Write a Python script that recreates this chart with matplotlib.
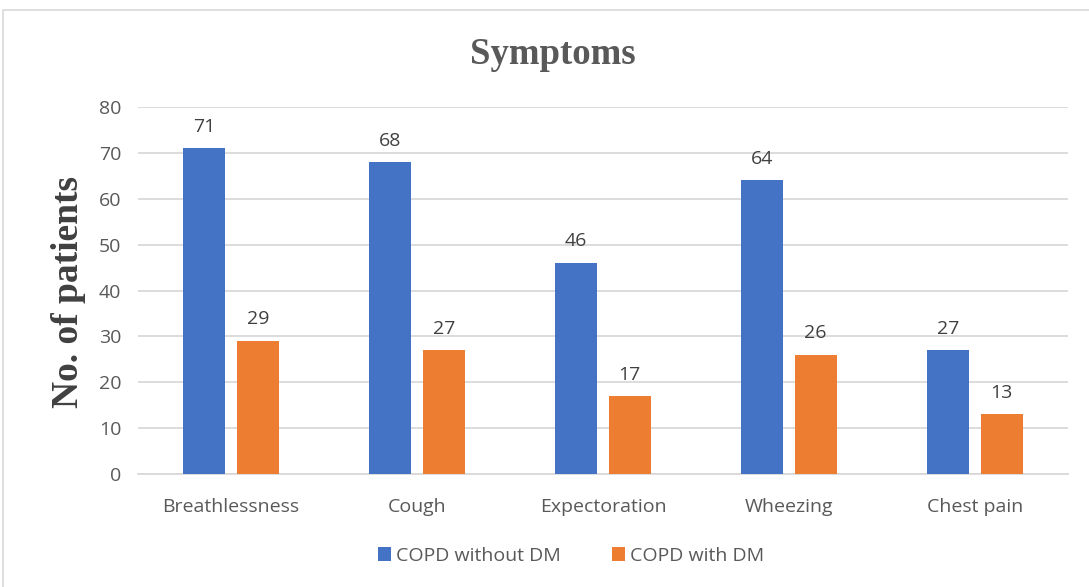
import matplotlib
matplotlib.use("Agg")
import matplotlib.pyplot as plt
import numpy as np
from matplotlib.patches import Rectangle

categories = ["Breathlessness", "Cough", "Expectoration", "Wheezing", "Chest pain"]
without_dm = [71, 68, 46, 64, 27]
with_dm = [29, 27, 17, 26, 13]
series_names = ["COPD without DM", "COPD with DM"]
y_ticks = [0, 10, 20, 30, 40, 50, 60, 70, 80]

BLUE = "#4472C4"
ORANGE = "#ED7D31"
TICK_COLOR = "#595959"
LABEL_COLOR = "#404040"
GRID = "#D9D9D9"
SANS = ["Open Sans", "DejaVu Sans"]
SERIF = ["Liberation Serif", "DejaVu Serif"]
FS = 14

fig = plt.figure(figsize=(10.89, 5.87), dpi=100)
fig.patch.set_facecolor("white")

# light frame around the chart area
fig.add_artist(Rectangle((3 / 1089, -0.05), 1.2, 1 - 10 / 587 + 0.05,
                         transform=fig.transFigure, fill=False,
                         edgecolor="#D9D9D9", linewidth=1.2))

ax = fig.add_axes([138 / 1089, 1 - 474 / 587, (1068 - 138) / 1089, (474 - 107) / 587])

x = np.arange(len(categories))
width = 0.225
offset = 0.1435
b1 = ax.bar(x - offset, without_dm, width, color=BLUE, label=series_names[0], zorder=3)
b2 = ax.bar(x + offset, with_dm, width, color=ORANGE, label=series_names[1], zorder=3)

for bars, vals in ((b1, without_dm), (b2, with_dm)):
    for rect, v in zip(bars, vals):
        ax.annotate(str(v), (rect.get_x() + rect.get_width() / 2, v),
                    xytext=(0, 9), textcoords="offset points",
                    ha="center", va="bottom", fontsize=FS,
                    color=LABEL_COLOR, family=SANS)

ax.set_xlim(-0.5, len(categories) - 0.5)
ax.set_ylim(0, 80)
ax.set_yticks(y_ticks)
ax.set_xticks(x)
ax.set_xticklabels(categories)
for lab in ax.get_xticklabels() + ax.get_yticklabels():
    lab.set_family(SANS)
    lab.set_fontsize(FS)
    lab.set_color(TICK_COLOR)
ax.tick_params(axis="both", length=0)
ax.tick_params(axis="x", pad=17)
ax.tick_params(axis="y", pad=12)

ax.yaxis.grid(True, color=GRID, linewidth=1.3, zorder=0)
for side in ("top", "right", "left"):
    ax.spines[side].set_visible(False)
ax.spines["bottom"].set_color(GRID)
ax.spines["bottom"].set_linewidth(1.3)

fig.text(553 / 1089, 1 - 55 / 587, "Symptoms", ha="center", va="center",
         fontsize=26.5, fontweight="bold", color=TICK_COLOR, family=SERIF)
fig.text(68 / 1089, 1 - 292 / 587, "No. of patients", ha="center", va="center",
         rotation=90, fontsize=27, fontweight="bold", color=LABEL_COLOR, family=SERIF)

leg = fig.legend(handles=[b1, b2], labels=series_names, loc="center",
                 bbox_to_anchor=(571 / 1089, 1 - 556 / 587), ncol=2, frameon=False,
                 handlelength=0.7, handleheight=0.7, handletextpad=0.25,
                 columnspacing=2.6, prop={"family": SANS, "size": FS})
for t in leg.get_texts():
    t.set_color(TICK_COLOR)

fig.savefig("out.png", dpi=100, facecolor="white")
